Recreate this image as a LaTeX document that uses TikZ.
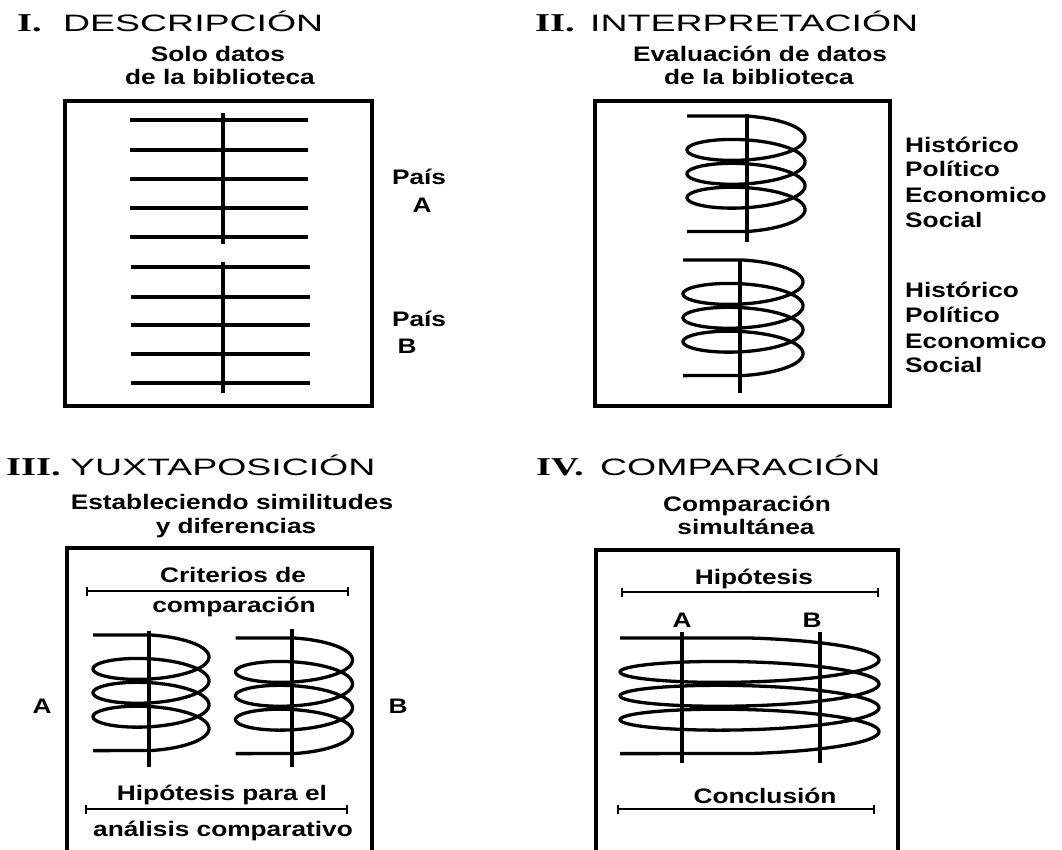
\documentclass[tikz,border=0pt]{standalone}
\usepackage{fontspec}
\newfontfamily\sansfam{Liberation Sans}[FakeStretch=1.25]
\newfontfamily\widefam{Liberation Sans}[FakeStretch=1.58]
\newfontfamily\seriffam{Liberation Serif}[FakeStretch=1.5]
\usepackage{tikz}
\def\coil(#1,#2,#3){
  \draw[stroke, line join=round] (#1-#3,#2) -- (#1,#2)
    -- plot[domain=-90:1170, samples=300, smooth] ({#1+#3*cos(\x)}, {#2+16+0.066323*(\x+90)+16*sin(\x)})
    -- (#1-#3,#2+115.6);
}
\def\tickbar(#1,#2,#3){
  \draw[rulebar] (#1,#3) -- (#2,#3);
  \draw[rulebar] (#1,#3-4.5) -- (#1,#3+4.5);
  \draw[rulebar] (#2,#3-4.5) -- (#2,#3+4.5);
}
\tikzset{
  frame/.style={draw, line width=3.4pt},
  stroke/.style={line width=3.3pt},
  rulebar/.style={line width=2.7pt},
  body/.style={font={\sansfam\bfseries\fontsize{21}{23}\selectfont}, inner sep=0pt, anchor=base},
  head/.style={font={\widefam\fontsize{23.7}{26}\selectfont}, inner sep=0pt, anchor=base west},
  numeral/.style={font={\seriffam\bfseries\fontsize{25.7}{28}\selectfont}, inner sep=0pt, anchor=base west},
}
\begin{document}
\begin{tikzpicture}[x=1pt, y=-1pt]
\clip (0,0) rectangle (1062,850);
\fill[white] (0,0) rectangle (1062,850);

% I. descripcion
\node[numeral] (num1) at (17,32) {I.};
\node[head] (head1) at (63,32) {DESCRIPCIÓN};
\node[body] (sub1a) at (218,62) {Solo datos};
\node[body] (sub1b) at (220,85) {de la biblioteca};
\draw[frame] (65,101) rectangle (372,406);
\draw[stroke] (130,120) -- (308,120) (130,150) -- (308,150) (130,179) -- (308,179)
  (130,208) -- (308,208) (130,237) -- (308,237);
\draw[stroke] (223,113) -- (223,244);
\draw[stroke] (131,267) -- (310,267) (131,297) -- (310,297) (131,325) -- (310,325)
  (131,354) -- (310,354) (131,383) -- (310,383);
\draw[stroke] (223,262) -- (223,393);
\node[body] (paisA) at (419,185) {País};
\node[body] (letA) at (422,213) {A};
\node[body] (paisB) at (419,326) {País};
\node[body] (letB) at (407,353) {B};

% II. interpretacion
\node[numeral] (num2) at (535,32) {II.};
\node[head] (head2) at (590,32) {INTERPRETACIÓN};
\node[body] (sub2a) at (760,62) {Evaluación de datos};
\node[body] (sub2b) at (759,85) {de la biblioteca};
\draw[frame] (595,101) rectangle (890,406);
\coil(746,116,59)
\draw[stroke] (747,114) -- (747,242);
\coil(743,260,60)
\draw[stroke] (740,259) -- (740,393);
\node[body, anchor=base west] (hist1) at (905,153) {Histórico};
\node[body, anchor=base west] (poli1) at (905,177) {Político};
\node[body, anchor=base west] (econ1) at (905,203) {Economico};
\node[body, anchor=base west] (soc1) at (905,228) {Social};
\node[body, anchor=base west] (hist2) at (905,298) {Histórico};
\node[body, anchor=base west] (poli2) at (905,322) {Político};
\node[body, anchor=base west] (econ2) at (905,348) {Economico};
\node[body, anchor=base west] (soc2) at (905,372) {Social};

% III. yuxtaposicion
\node[numeral] (num3) at (6,475) {III.};
\node[head] (head3) at (70,475) {YUXTAPOSICIÓN};
\node[body] (sub3a) at (232,509) {Estableciendo similitudes};
\node[body] (sub3b) at (236,533) {y diferencias};
\draw[frame] (67,548) rectangle (372,870);
\node[body] (crit1) at (233,582) {Criterios de};
\tickbar(87,348,591)
\node[body] (crit2) at (234,612) {comparación};
\coil(151,635,58)
\draw[stroke] (149,631) -- (149,767);
\coil(294,638,58.5)
\draw[stroke] (292,629) -- (292,767);
\node[body] (sideA) at (42,713) {A};
\node[body] (sideB) at (398,713) {B};
\node[body] (hipo1) at (222,800) {Hipótesis para el};
\tickbar(86,347,809)
\node[body] (hipo2) at (223,836) {análisis comparativo};

% IV. comparacion
\node[numeral] (num4) at (536,475) {IV.};
\node[head] (head4) at (600,475) {COMPARACIÓN};
\node[body] (sub4a) at (747,511) {Comparación};
\node[body] (sub4b) at (746,534) {simultánea};
\draw[frame] (596,550) rectangle (898,870);
\node[body] (hipo3) at (754,584) {Hipótesis};
\tickbar(622,878,592)
\node[body] (colA) at (682,627) {A};
\node[body] (colB) at (812,627) {B};
\coil(749.5,638,129.5)
\draw[stroke] (682,632) -- (682,763);
\draw[stroke] (820,632) -- (820,763);
\node[body] (concl) at (765,803) {Conclusión};
\tickbar(618,874,809)
\end{tikzpicture}
\end{document}
